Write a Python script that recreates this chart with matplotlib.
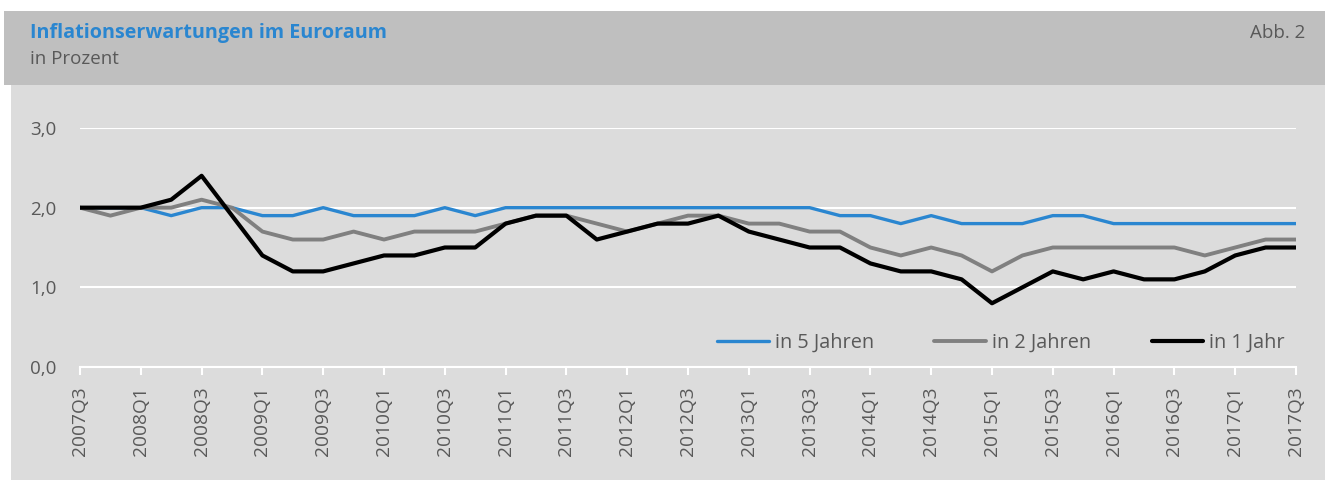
import matplotlib
matplotlib.use("Agg")
import matplotlib.pyplot as plt
from matplotlib.patches import Rectangle

plt.rcParams['font.family'] = ['Open Sans', 'DejaVu Sans']

quarters = []
for y in range(2007, 2018):
    for q in range(1, 5):
        if (y == 2007 and q < 3) or (y == 2017 and q > 3):
            continue
        quarters.append(f"{y}Q{q}")

in_5_jahren = [2.0, 2.0, 2.0, 1.9, 2.0, 2.0, 1.9, 1.9, 2.0, 1.9, 1.9, 1.9, 2.0, 1.9,
               2.0, 2.0, 2.0, 2.0, 2.0, 2.0, 2.0, 2.0, 2.0, 2.0, 2.0, 1.9, 1.9, 1.8,
               1.9, 1.8, 1.8, 1.8, 1.9, 1.9, 1.8, 1.8, 1.8, 1.8, 1.8, 1.8, 1.8]
in_2_jahren = [2.0, 1.9, 2.0, 2.0, 2.1, 2.0, 1.7, 1.6, 1.6, 1.7, 1.6, 1.7, 1.7, 1.7,
               1.8, 1.9, 1.9, 1.8, 1.7, 1.8, 1.9, 1.9, 1.8, 1.8, 1.7, 1.7, 1.5, 1.4,
               1.5, 1.4, 1.2, 1.4, 1.5, 1.5, 1.5, 1.5, 1.5, 1.4, 1.5, 1.6, 1.6]
in_1_jahr = [2.0, 2.0, 2.0, 2.1, 2.4, 1.9, 1.4, 1.2, 1.2, 1.3, 1.4, 1.4, 1.5, 1.5,
             1.8, 1.9, 1.9, 1.6, 1.7, 1.8, 1.8, 1.9, 1.7, 1.6, 1.5, 1.5, 1.3, 1.2,
             1.2, 1.1, 0.8, 1.0, 1.2, 1.1, 1.2, 1.1, 1.1, 1.2, 1.4, 1.5, 1.5]
y_ticks = [0.0, 1.0, 2.0, 3.0]
y_labels = ["0,0", "1,0", "2,0", "3,0"]

W, H = 1325, 480
fig = plt.figure(figsize=(W / 100, H / 100), dpi=100)
fig.patch.set_facecolor("white")

# background panels
fig.patches.append(Rectangle((11 / W, 0), 1 - 11 / W, (H - 85) / H,
                             transform=fig.transFigure, facecolor="#dcdcdc",
                             edgecolor="none", zorder=-10))
fig.patches.append(Rectangle((4 / W, (H - 85) / H), 1 - 4 / W, 74 / H,
                             transform=fig.transFigure, facecolor="#bfbfbf",
                             edgecolor="none", zorder=-10))

fig.text(30 / W, 1 - 33 / H, "Inflationserwartungen im Euroraum", color="#2a86d0",
         fontsize=14.2, fontweight="bold", ha="left", va="center")
fig.text(30 / W, 1 - 59 / H, "in Prozent", color="#595959", fontsize=13.5,
         ha="left", va="center")
fig.text(1305 / W, 1 - 33 / H, "Abb. 2", color="#595959", fontsize=13.5,
         ha="right", va="center")

left, right = 80 / W, 1296 / W
bottom, top = (H - 367) / H, (H - 128) / H
ax = fig.add_axes([left, bottom, right - left, top - bottom])
ax.set_zorder(1)
ax.set_facecolor("none")

x = list(range(len(quarters)))
ax.plot(x, in_5_jahren, color="#2a86d0", lw=2.4, label="in 5 Jahren", solid_capstyle="round", zorder=3)
ax.plot(x, in_2_jahren, color="#808080", lw=2.8, label="in 2 Jahren", solid_capstyle="round", zorder=4)
ax.plot(x, in_1_jahr, color="#000000", lw=3.0, label="in 1 Jahr", solid_capstyle="round", zorder=5)

ax.set_xlim(0, len(quarters) - 1)
ax.set_ylim(0, 3)
ax.set_yticks(y_ticks)
ax.set_yticklabels(y_labels)
ax.set_xticks(x[::2])
ax.set_xticklabels(quarters[::2], rotation=90)

for s in ["top", "right", "left"]:
    ax.spines[s].set_visible(False)
ax.spines["bottom"].set_color("white")
ax.spines["bottom"].set_linewidth(1.5)
ax.spines["bottom"].set_zorder(2)
ax.tick_params(axis="x", colors="white", length=6, width=1.5, labelcolor="#595959",
               labelsize=13.8, pad=8)
ax.tick_params(axis="y", length=0, labelcolor="#595959", labelsize=13.5, pad=17)
ax.yaxis.grid(True, color="white", lw=1.5, zorder=1)
ax.set_axisbelow(True)

leg = ax.legend(loc="center left", bbox_to_anchor=(717 / W, 1 - 343 / H),
                bbox_transform=fig.transFigure, ncol=3, frameon=False,
                fontsize=14.3, handlelength=2.6, handletextpad=0.3,
                columnspacing=3.05, borderpad=0, borderaxespad=0)
for t in leg.get_texts():
    t.set_color("#595959")

fig.savefig("out.png", dpi=100)
